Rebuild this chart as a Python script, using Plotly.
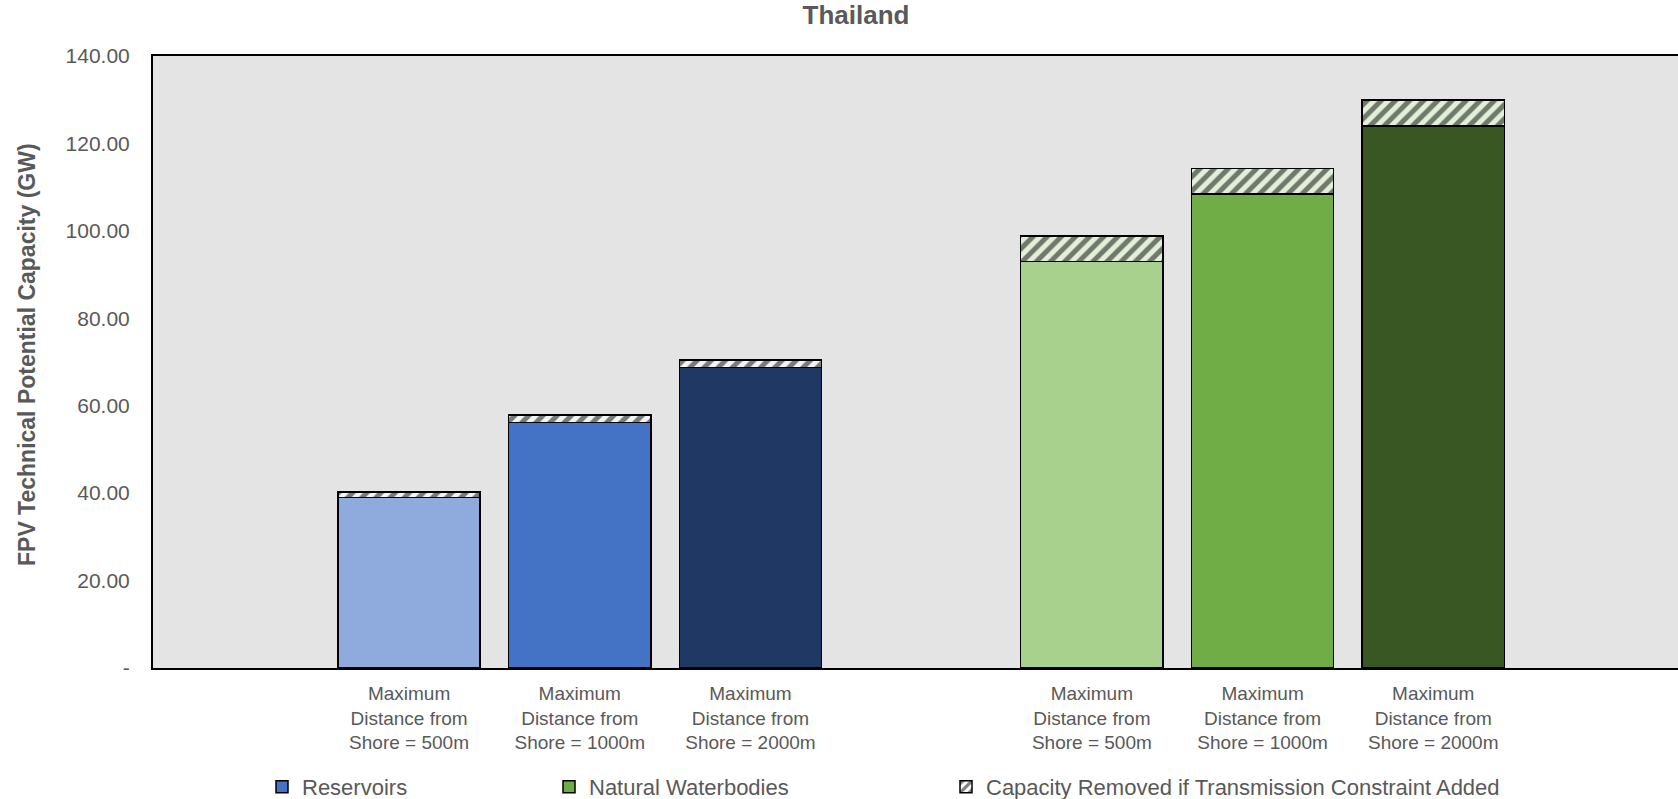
import plotly.graph_objects as go

W, H = 1678, 799
ML, MR, MT, MB = 153, 0, 56, 131

# ---- data ----
categories = [
    "Maximum<br>Distance from<br>Shore = 500m",
    "Maximum<br>Distance from<br>Shore = 1000m",
    "Maximum<br>Distance from<br>Shore = 2000m",
    "Maximum<br>Distance from<br>Shore = 500m",
    "Maximum<br>Distance from<br>Shore = 1000m",
    "Maximum<br>Distance from<br>Shore = 2000m",
]
res_pos = [1, 2, 3]
nat_pos = [5, 6, 7]
res_fill = [39.0, 56.2, 68.8]
res_removed = [1.3, 1.7, 1.7]
nat_fill = [93.0, 108.4, 124.0]
nat_removed = [5.8, 5.9, 5.9]
res_colors = ["#8FAADC", "#4472C4", "#203864"]
nat_colors = ["#A9D18E", "#70AD47", "#385723"]
y_tickvals = [0, 20, 40, 60, 80, 100, 120, 140]
y_ticktext = ["-", "20.00", "40.00", "60.00", "80.00", "100.00", "120.00", "140.00"]

FONT = "Arial, Liberation Sans, sans-serif"
GREY = "#595959"
BW = 0.834

fig = go.Figure()
pattern = dict(shape="/", fgcolor="#000000", bgcolor="#E2F0D9", size=10, solidity=0.5)
pattern_b = dict(shape="/", fgcolor="#000000", bgcolor="#F2F4F8", size=10, solidity=0.5)

fig.add_trace(go.Bar(x=res_pos, y=res_fill, width=BW, showlegend=False,
                     marker=dict(color=res_colors, line=dict(color="#000000", width=1.5))))
fig.add_trace(go.Bar(x=res_pos, y=res_removed, width=BW, showlegend=False,
                     marker=dict(color="#F2F4F8", pattern=pattern_b, line=dict(color="#000000", width=1.5))))
fig.add_trace(go.Bar(x=nat_pos, y=nat_fill, width=BW, showlegend=False,
                     marker=dict(color=nat_colors, line=dict(color="#000000", width=1.5))))
fig.add_trace(go.Bar(x=nat_pos, y=nat_removed, width=BW, showlegend=False,
                     marker=dict(color="#E2F0D9", pattern=pattern, line=dict(color="#000000", width=1.5))))

# legend-only traces
fig.add_trace(go.Bar(x=[None], y=[None], name="Reservoirs", legend="legend",
                     marker=dict(color="#4472C4", line=dict(color="#000000", width=1.5))))
fig.add_trace(go.Bar(x=[None], y=[None], name="Natural Waterbodies", legend="legend2",
                     marker=dict(color="#70AD47", line=dict(color="#000000", width=1.5))))
fig.add_trace(go.Bar(x=[None], y=[None], name="Capacity Removed if Transmission Constraint Added",
                     legend="legend3",
                     marker=dict(color="#FFFFFF", pattern=dict(shape="/", fgcolor="#000000", bgcolor="#FFFFFF",
                                                              size=8, solidity=0.5),
                                 line=dict(color="#000000", width=1.5))))

PW = W - ML - MR
PH = H - MT - MB


def px_x(px):
    return (px - ML) / PW


def px_y(py):
    return (H - MB - py) / PH


leg_common = dict(orientation="h", font=dict(family=FONT, size=22, color=GREY),
                  bgcolor="rgba(0,0,0,0)", yanchor="middle", xanchor="left",
                  itemclick=False, itemdoubleclick=False)

fig.update_layout(
    width=W, height=H,
    margin=dict(l=ML, r=MR, t=MT, b=MB, autoexpand=False),
    paper_bgcolor="#FFFFFF",
    plot_bgcolor="#E4E4E4",
    barmode="stack",
    font=dict(family=FONT, color=GREY),
    title=dict(text="<b>Thailand</b>", x=856 / W, xref="container", xanchor="center",
               y=1 - 15 / H, yref="container", yanchor="middle",
               font=dict(family=FONT, size=26, color=GREY)),
    xaxis=dict(range=[-0.5, -0.5 + PW / 170.7], tickvals=res_pos + nat_pos, ticktext=categories,
               showgrid=False, zeroline=False, showline=True, mirror=True,
               linecolor="#000000", linewidth=2, ticks="", automargin=False, ticklabelstandoff=7,
               tickfont=dict(family=FONT, size=19, color=GREY)),
    yaxis=dict(range=[0, 140], tickvals=y_tickvals, ticktext=y_ticktext,
               showgrid=False, zeroline=False, showline=True, mirror=False,
               linecolor="#000000", linewidth=2, ticks="", ticklabelstandoff=17, automargin=False,
               tickfont=dict(family=FONT, size=21, color=GREY)),
    legend=dict(x=px_x(262), y=px_y(787), **leg_common),
    legend2=dict(x=px_x(549), y=px_y(787), **leg_common),
    legend3=dict(x=px_x(946), y=px_y(787), **leg_common),
    annotations=[dict(text="<b>FPV Technical Potential Capacity (GW)</b>", textangle=-90,
                      xref="paper", yref="paper", x=px_x(27), y=px_y(355),
                      xanchor="center", yanchor="middle", showarrow=False,
                      font=dict(family=FONT, size=23, color=GREY))],
)

fig.write_html("out.html")
